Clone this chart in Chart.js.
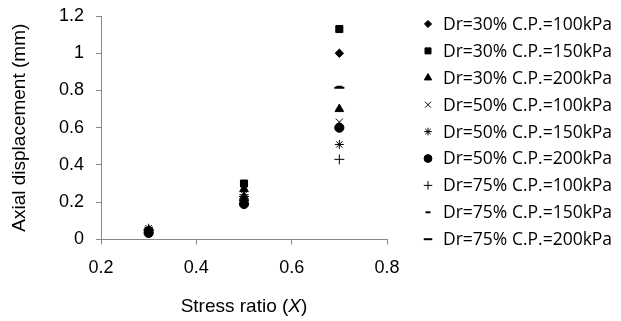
<!DOCTYPE html>
<html>
<head>
<meta charset="utf-8">
<script src="https://cdn.jsdelivr.net/npm/chart.js@4.4.0/dist/chart.umd.min.js"></script>
<style>
  html, body { margin: 0; padding: 0; background: #fff; }
  #wrap { width: 621px; height: 321px; position: relative; }
</style>
</head>
<body>
<div id="wrap"><canvas id="chart"></canvas></div>
<script>
// stress ratio X used for every test
const stressRatio = [0.3, 0.5, 0.7];

const seriesNames = [
  'Dr=30% C.P.=100kPa', 'Dr=30% C.P.=150kPa', 'Dr=30% C.P.=200kPa',
  'Dr=50% C.P.=100kPa', 'Dr=50% C.P.=150kPa', 'Dr=50% C.P.=200kPa',
  'Dr=75% C.P.=100kPa', 'Dr=75% C.P.=150kPa', 'Dr=75% C.P.=200kPa'
];

// axial displacement (mm)
const dr30cp100 = [0.05, 0.22, 1.00];
const dr30cp150 = [0.045, 0.30, 1.13];
const dr30cp200 = [0.05, 0.27, 0.70];
const dr50cp100 = [0.05, 0.25, 0.63];
const dr50cp150 = [0.06, 0.24, 0.51];
const dr50cp200 = [0.035, 0.19, 0.60];
const dr75cp100 = [0.05, 0.23, 0.43];
const dr75cp150 = [0.05, 0.21, 0.82];
const dr75cp200 = [0.05, 0.21, 0.815];

const allValues = [dr30cp100, dr30cp150, dr30cp200, dr50cp100, dr50cp150, dr50cp200, dr75cp100, dr75cp150, dr75cp200];
const markers = ['rectRot', 'rect', 'triangle', 'crossRot', 'star', 'circle', 'cross', 'line', 'line'];
const markerSize = [4.2, 5, 5, 5, 4.5, 4.6, 5, 3, 5];

const xTicks = [0.2, 0.4, 0.6, 0.8];
const yTicks = [0, 0.2, 0.4, 0.6, 0.8, 1, 1.2];

const datasets = seriesNames.map((name, i) => ({
  label: name,
  data: allValues[i].map((v, j) => ({ x: stressRatio[j], y: v })),
  pointStyle: markers[i],
  pointRadius: markerSize[i],
  pointBackgroundColor: '#000',
  pointBorderColor: '#000',
  pointBorderWidth: (markers[i] === 'line') ? 2 : 1,
  showLine: false
}));

const axisFont = '"Liberation Sans", Arial, sans-serif';

// x axis title with italic X
const xTitlePlugin = {
  id: 'xTitle',
  afterDraw(chart) {
    const c = chart.ctx;
    const area = chart.chartArea;
    const cx = (area.left + area.right) / 2;
    const y = 307;
    c.save();
    c.fillStyle = '#000';
    c.textBaseline = 'middle';
    const f1 = '19px ' + axisFont;
    const f2 = 'italic 19px ' + axisFont;
    const parts = [['Stress ratio (', f1], ['X', f2], [')', f1]];
    let total = 0;
    parts.forEach(p => { c.font = p[1]; total += c.measureText(p[0]).width; });
    let x = cx - total / 2;
    parts.forEach(p => { c.font = p[1]; c.fillText(p[0], x, y); x += c.measureText(p[0]).width; });
    c.restore();
  }
};

// legend drawn at the right, markers through Chart.js helpers
const legendPlugin = {
  id: 'sideLegend',
  afterDraw(chart) {
    const c = chart.ctx;
    const top = 24, step = 26.9, mx = 428, tx = 443;
    c.save();
    chart.data.datasets.forEach((ds, i) => {
      const y = top + i * step;
      c.fillStyle = '#000';
      c.strokeStyle = '#000';
      c.lineWidth = ds.pointBorderWidth;
      let r = ds.pointRadius * 0.85;
      if (i === 7) r = 2.5;
      Chart.helpers.drawPoint(c, { pointStyle: ds.pointStyle, radius: r, borderWidth: ds.pointBorderWidth }, mx, y);
      c.font = '17.5px "Open Sans", "Noto Sans", sans-serif';
      c.textBaseline = 'middle';
      c.fillText(ds.label, tx, y + 1);
    });
    c.restore();
  }
};

new Chart(document.getElementById('chart'), {
  type: 'scatter',
  data: { datasets: datasets },
  plugins: [xTitlePlugin, legendPlugin],
  options: {
    responsive: true,
    maintainAspectRatio: false,
    animation: false,
    layout: { padding: { top: 16, right: 234, bottom: 29, left: 0 } },
    plugins: {
      tooltip: { enabled: false },
      legend: { display: false }
    },
    scales: {
      x: {
        type: 'linear',
        min: 0.2, max: 0.8,
        afterBuildTicks: axis => { axis.ticks = xTicks.map(v => ({ value: v })); },
        grid: { drawOnChartArea: false, drawTicks: true, tickLength: 5, color: '#888' },
        border: { color: '#888', width: 1 },
        ticks: { color: '#000', padding: 13, font: { family: axisFont, size: 18 }, callback: v => String(v) }
      },
      y: {
        type: 'linear',
        min: 0, max: 1.2,
        afterBuildTicks: axis => { axis.ticks = yTicks.map(v => ({ value: v })); },
        afterFit: axis => { axis.width = 101; axis.paddingTop = 0; axis.paddingBottom = 0; },
        grid: { drawOnChartArea: false, drawTicks: true, tickLength: 5, color: '#888' },
        border: { color: '#888', width: 1 },
        title: {
          display: true,
          text: 'Axial displacement (mm)',
          color: '#000',
          padding: { top: 8, bottom: 0 },
          font: { family: axisFont, size: 19 }
        },
        ticks: { color: '#000', padding: 12, font: { family: axisFont, size: 18 }, callback: v => String(v) }
      }
    }
  }
});
</script>
</body>
</html>
